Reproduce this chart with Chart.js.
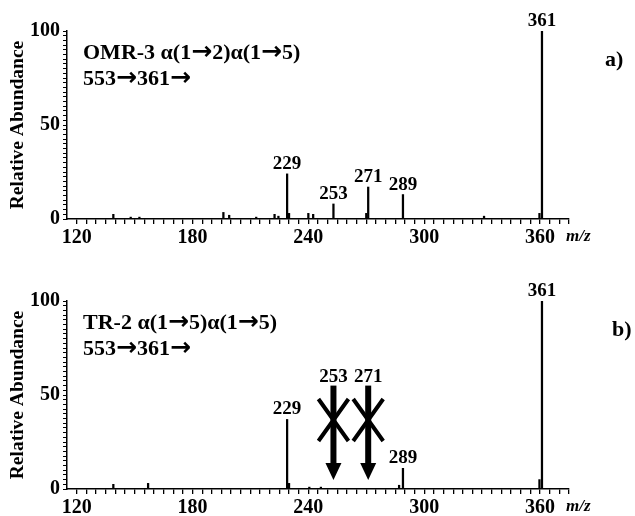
<!DOCTYPE html>
<html lang="en">
<head>
<meta charset="UTF-8">
<title>MS3 spectra</title>
<script src="https://cdn.jsdelivr.net/npm/chart.js"></script>
<style>
    body { margin: 0; background: #fff; }
    .panel { position: absolute; left: 0; }
</style>
</head>
<body>
<canvas id="chartA" class="panel" width="635" height="246" style="top:0"></canvas>
<canvas id="chartB" class="panel" width="635" height="246" style="top:270px"></canvas>
<script>
// panel a) OMR-3
const mzA  = [139, 148, 152.5, 196, 199, 213, 222.5, 224.5, 229, 230, 240, 242.5, 253, 270, 271, 289, 331, 359.7, 361];
const relA = [2.5, 1, 1, 3.5, 2, 1, 2.5, 1.5, 24, 3, 3, 2.5, 8, 3, 17, 13, 1.5, 3, 100];
const peakLabelsA = [229, 253, 271, 289, 361];

// panel b) TR-2
const mzB  = [139, 157, 229, 230, 240.5, 246.5, 287, 289, 359.7, 361];
const relB = [2.5, 3, 37, 3, 1, 1, 2, 11, 5, 100];
const peakLabelsB = [229, 289, 361];
const missingB = [253, 271];

const xTickLabels = [120, 180, 240, 300, 360];
const yTickLabels = [0, 50, 100];

const serif = '"Liberation Serif", "Times New Roman", serif';
const arrowFont = 'bold 25px "DejaVu Sans", sans-serif';

// writes a string, swapping to a heavier font for the arrows
function drawMixed(ctx, text, x, y, font) {
    text.split(/(\u2192)/).forEach(part => {
        if (!part) return;
        ctx.font = part === '\u2192' ? arrowFont : font;
        ctx.fillText(part, x, y);
        x += ctx.measureText(part).width;
    });
}

// peak labels, panel texts and the crossed-out arrows
const annot = {
    id: 'annot',
    afterDatasetsDraw(chart, args, opts) {
        const { ctx, chartArea, scales: { x, y } } = chart;
        const ds = chart.data.datasets[0].data;
        ctx.save();
        ctx.fillStyle = '#000';
        ctx.strokeStyle = '#000';
        ctx.textAlign = 'center';
        ctx.textBaseline = 'alphabetic';
        ctx.font = 'bold 19px ' + serif;
        opts.peaks.forEach(mz => {
            const p = ds.find(d => d.x === mz);
            ctx.fillText(String(mz), x.getPixelForValue(mz), y.getPixelForValue(p.y) - 5);
        });

        (opts.missing || []).forEach(mz => {
            const px = x.getPixelForValue(mz);
            const top = y.getPixelForValue(55);
            const headTop = y.getPixelForValue(13.8);
            const tip = y.getPixelForValue(4.8);
            const cross = y.getPixelForValue(36.7);
            ctx.fillText(String(mz), px, y.getPixelForValue(57));
            ctx.fillRect(px - 3, top, 6, headTop - top);
            ctx.beginPath();
            ctx.moveTo(px - 8, headTop);
            ctx.lineTo(px + 8, headTop);
            ctx.lineTo(px, tip);
            ctx.closePath();
            ctx.fill();
            ctx.lineWidth = 4;
            ctx.beginPath();
            ctx.moveTo(px - 15, cross - 21);
            ctx.lineTo(px + 15, cross + 21);
            ctx.moveTo(px + 15, cross - 21);
            ctx.lineTo(px - 15, cross + 21);
            ctx.stroke();
        });

        ctx.textAlign = 'left';
        const tFont = 'bold 22px ' + serif;
        drawMixed(ctx, opts.line1, chartArea.left + 16, chartArea.top + 28, tFont);
        drawMixed(ctx, opts.line2, chartArea.left + 16, chartArea.top + 54, tFont);
        ctx.font = 'bold 22px ' + serif;
        ctx.fillText(opts.panel, opts.panelX, chartArea.top + 35);
        ctx.font = 'italic bold 17px ' + serif;
        ctx.fillText('m/z', chartArea.right - 3, chartArea.bottom + 22);
        ctx.restore();
    }
};

function makeSpectrum(id, mz, rel, annotOpts) {
    const data = mz.map((m, i) => ({ x: m, y: rel[i] }));
    return new Chart(document.getElementById(id), {
        type: 'bar',
        data: {
            datasets: [{
                data,
                backgroundColor: '#000',
                barThickness: 1.6
            }]
        },
        options: {
            responsive: false,
            animation: false,
            devicePixelRatio: 1,
            layout: { padding: { top: 31, right: 66, left: 0, bottom: 0 } },
            plugins: {
                legend: { display: false },
                tooltip: { enabled: false },
                annot: annotOpts
            },
            scales: {
                x: {
                    type: 'linear',
                    min: 115,
                    max: 375,
                    offset: false,
                    afterFit: s => { s.height = 27; },
                    border: { color: '#000', width: 1.5 },
                    grid: {
                        offset: false,
                        drawOnChartArea: false,
                        color: c => (c.tick && c.tick.value < 120) ? 'rgba(0,0,0,0)' : '#000',
                        tickLength: 5,
                        lineWidth: 1.3
                    },
                    ticks: {
                        stepSize: 5,
                        autoSkip: false,
                        maxTicksLimit: 100,
                        maxRotation: 0,
                        padding: 2,
                        color: '#000',
                        font: { family: serif, weight: 'bold', size: 20 },
                        callback: v => xTickLabels.includes(v) ? String(v) : ''
                    }
                },
                y: {
                    min: 0,
                    max: 100,
                    afterFit: s => { s.width = 67; },
                    border: { color: '#000', width: 1.5 },
                    grid: { drawOnChartArea: false, color: '#000', tickLength: 4, lineWidth: 1 },
                    title: {
                        display: true,
                        text: 'Relative Abundance',
                        color: '#000',
                        padding: { top: 6, bottom: 0 },
                        font: { family: serif, weight: 'bold', size: 19.5 }
                    },
                    ticks: {
                        stepSize: 2.5,
                        autoSkip: false,
                        maxTicksLimit: 100,
                        padding: 3,
                        color: '#000',
                        font: { family: serif, weight: 'bold', size: 20 },
                        callback: v => yTickLabels.includes(v) ? String(v) : ''
                    }
                }
            }
        },
        plugins: [annot]
    });
}

makeSpectrum('chartA', mzA, relA, {
    peaks: peakLabelsA,
    line1: 'OMR-3 \u03b1(1\u21922)\u03b1(1\u21925)',
    line2: '553\u2192361\u2192',
    panel: 'a)',
    panelX: 605
});

makeSpectrum('chartB', mzB, relB, {
    peaks: peakLabelsB,
    missing: missingB,
    line1: 'TR-2 \u03b1(1\u21925)\u03b1(1\u21925)',
    line2: '553\u2192361\u2192',
    panel: 'b)',
    panelX: 612
});
</script>
</body>
</html>
